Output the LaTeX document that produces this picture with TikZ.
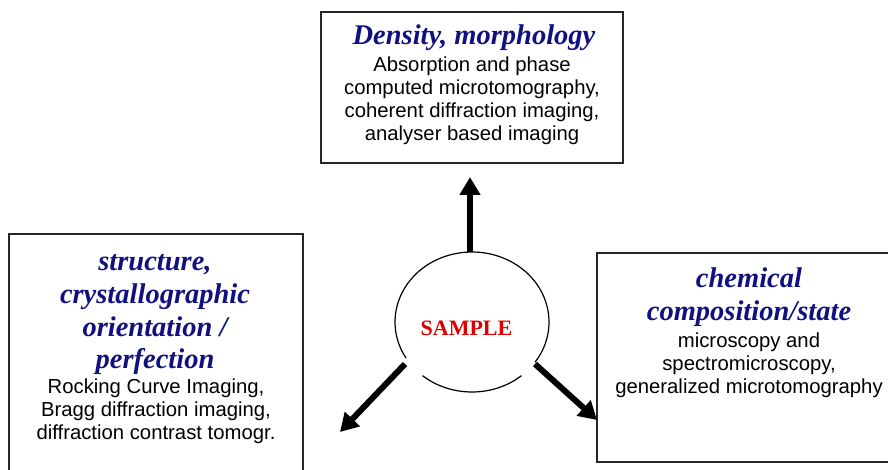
\documentclass[tikz,border=0pt]{standalone}
\usepackage{fontspec}
\setmainfont{Liberation Serif}
\setsansfont{Liberation Sans}
\usetikzlibrary{arrows.meta}
\definecolor{headblue}{RGB}{16,16,128}
\definecolor{samplered}{RGB}{222,0,0}
\begin{document}
\begin{tikzpicture}[x=1pt,y=1pt,
  box/.style={draw=black!85, line width=1.4pt, inner sep=0pt},
  head/.style={anchor=base, inner sep=0pt, text=headblue,
    font=\fontsize{28.5}{33}\selectfont\bfseries\itshape},
  body/.style={anchor=base, inner sep=0pt,
    font=\sffamily\fontsize{20.3}{23}\selectfont},
  ring/.style={line width=1.2pt},
  flow/.style={line width=6pt, -{Triangle[length=18pt,width=20pt]}}]
\useasboundingbox (0,0) rectangle (888,469);

% three technique boxes
\node[box, minimum width=302, minimum height=151] (topbox) at (472,381.5) {};
\node[box, minimum width=294, minimum height=245] (leftbox) at (156,112.5) {};
\node[box, minimum width=303, minimum height=209] (rightbox) at (748.5,111.5) {};

% top box text
\node[head] (tophead) at (474,424) {Density, morphology};
\foreach \t [count=\i] in {Absorption and phase, {computed microtomography,},
    {coherent diffraction imaging,}, analyser based imaging}
  \node[body] (top\i) at (472,{397-(\i-1)*22.67}) {\t};

% left box text
\node[head] (lefthead1) at (155,199) {structure,};
\node[head] (lefthead2) at (155,166) {crystallographic};
\node[head] (lefthead3) at (155,133) {orientation /};
\node[head] (lefthead4) at (155,101) {perfection};
\foreach \t/\yy [count=\i] in {{Rocking Curve Imaging,}/76,
    {Bragg diffraction imaging,}/53, {diffraction contrast tomogr.}/30}
  \node[body] (left\i) at (156,\yy) {\t};

% right box text
\node[head] (righthead1) at (749,182) {chemical};
\node[head] (righthead2) at (749,149) {composition/state};
\foreach \t/\yy [count=\i] in {microscopy and/122, {spectromicroscopy,}/99,
    generalized microtomography/76}
  \node[body] (right\i) at (749,\yy) {\t};

% the sample: an open ring with its label
\coordinate (c) at (472,147);
\node[anchor=base, inner sep=0pt, text=samplered,
  font=\fontsize{22}{26}\selectfont\bfseries] (sample) at (466.5,134) {SAMPLE};
\draw[ring] ([shift={(325:77 and 70)}]c)
  arc[start angle=325, end angle=571, x radius=77, y radius=70];
\draw[ring] ([shift={(230:77 and 70)}]c)
  arc[start angle=230, end angle=310, x radius=77, y radius=70];

% arrows out of the sample
\coordinate (upstart) at (470,217);
\coordinate (upend) at (470,292);
\coordinate (llstart) at (405,105);
\coordinate (llend) at (340,37);
\coordinate (lrstart) at (535,105);
\coordinate (lrend) at (597,49);
\draw[flow] (upstart) -- (upend);
\draw[flow] (llstart) -- (llend);
\draw[flow] (lrstart) -- (lrend);
\end{tikzpicture}
\end{document}
